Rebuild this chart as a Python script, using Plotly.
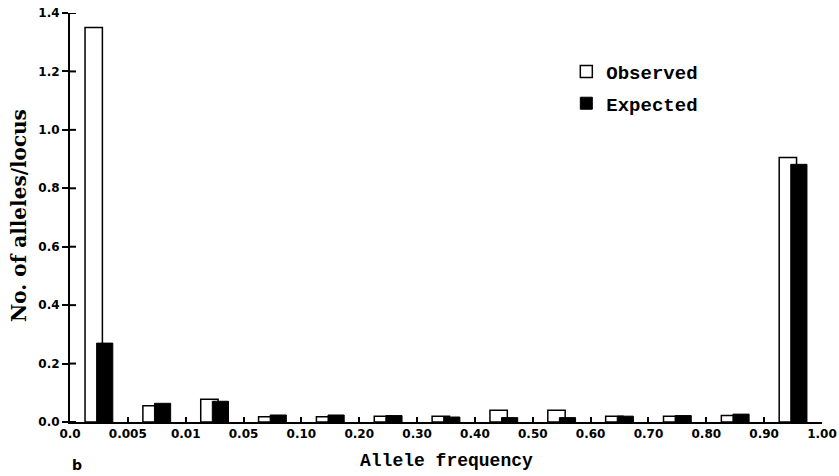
import plotly.graph_objects as go

bin_edges = ["0.0", "0.005", "0.01", "0.05", "0.10", "0.20", "0.30", "0.40",
             "0.50", "0.60", "0.70", "0.80", "0.90", "1.00"]
observed = [1.35, 0.056, 0.078, 0.018, 0.018, 0.02, 0.02, 0.04, 0.04, 0.02, 0.02, 0.022, 0.905]
expected = [0.27, 0.064, 0.071, 0.024, 0.024, 0.022, 0.017, 0.015, 0.015, 0.02, 0.022, 0.027, 0.882]
y_ticks = [0.0, 0.2, 0.4, 0.6, 0.8, 1.0, 1.2, 1.4]

centers = [i + 0.5 for i in range(len(observed))]

mono = "Liberation Mono, Courier New, monospace"
sans = "DejaVu Sans, Arial, sans-serif"
serif = "DejaVu Serif, serif"

fig = go.Figure()
fig.add_trace(go.Bar(x=centers, y=observed, name="Observed", width=0.30, offset=-0.24,
                     legendgroup="o",
                     marker=dict(color="white", line=dict(color="black", width=1.5))))
fig.add_trace(go.Bar(x=centers, y=expected, name="Expected", width=0.28, offset=-0.04,
                     legendgroup="e",
                     marker=dict(color="black", line=dict(color="black", width=1))))

fig.update_layout(
    width=839, height=476,
    margin=dict(l=70, r=17, t=13, b=54),
    plot_bgcolor="white", paper_bgcolor="white",
    barmode="overlay",
    showlegend=True,
    legend=dict(x=0.66, y=0.903, xanchor="left", yanchor="top",
                font=dict(family=mono, size=19, color="black", weight="bold"),
                bgcolor="rgba(0,0,0,0)", itemwidth=30, tracegroupgap=4),
    xaxis=dict(range=[0, 13], tickmode="array", tickvals=list(range(14)), ticktext=bin_edges,
               showline=True, linecolor="black", linewidth=2, ticks="inside", ticklen=5,
               tickwidth=2, tickcolor="black", showgrid=False, zeroline=False,
               automargin=False, ticklabeloverflow="allow",
               tickfont=dict(family=sans, size=12, color="black", weight="bold")),
    yaxis=dict(range=[0, 1.4], tickmode="array", tickvals=y_ticks,
               ticktext=[f"{v:.1f}" for v in y_ticks],
               showline=True, linecolor="black", linewidth=2, ticks="outside", ticklen=6,
               tickwidth=2, tickcolor="black", showgrid=False, zeroline=False,
               automargin=False, ticklabeloverflow="allow",
               tickfont=dict(family=sans, size=12, color="black", weight="bold")),
)
# inner half of the crossing y-axis tick marks
for v in y_ticks:
    fig.add_shape(type="line", xref="paper", yref="y", x0=0, x1=0.008, y0=v, y1=v,
                  line=dict(color="black", width=2), layer="above")

fig.add_annotation(text="Allele frequency", x=0.5, y=-0.095, xref="paper", yref="paper",
                   xanchor="center", yanchor="middle", showarrow=False,
                   font=dict(family=mono, size=18, color="black", weight="bold"))
fig.add_annotation(text="No. of alleles/locus", x=-0.068, y=0.506, xref="paper", yref="paper",
                   xanchor="center", yanchor="middle", showarrow=False, textangle=-90,
                   font=dict(family=serif, size=20, color="black", weight="bold"))
fig.add_annotation(text="b", x=0.0095, y=-0.105, xref="paper", yref="paper", xanchor="center",
                   yanchor="middle", showarrow=False,
                   font=dict(family=sans, size=14, color="black", weight="bold"))

fig.write_html("out.html", config={"displayModeBar": False},
               post_script="document.body.style.margin='0';document.body.style.overflow='hidden';")
